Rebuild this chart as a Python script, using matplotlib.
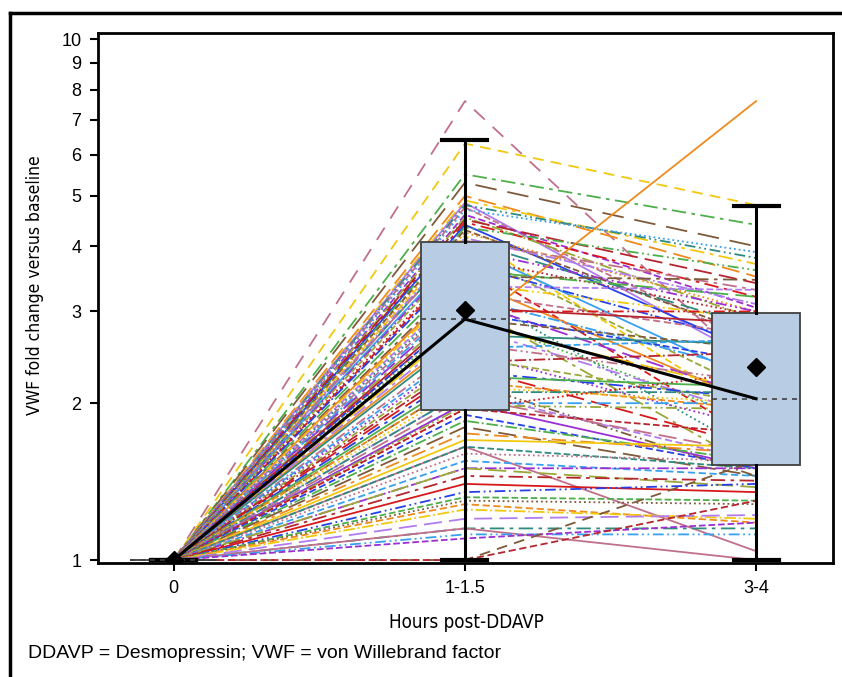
import numpy as np
import matplotlib
matplotlib.use("Agg")
import matplotlib.pyplot as plt
from matplotlib.lines import Line2D
from matplotlib.ticker import FixedLocator, NullLocator
from matplotlib import font_manager

# categories on the x axis
time_labels = ["0", "1-1.5", "3-4"]

# VWF fold change per subject (baseline is always 1)
fold_1h = [7.6, 6.3, 5.5, 5.3, 5.0, 4.9, 4.85, 4.8, 4.75, 4.7, 4.6, 4.55, 4.5, 4.45,
           4.4, 4.35, 4.3, 4.25, 4.2, 4.15, 4.1, 4.1,
           4.0, 3.95, 3.9, 3.8, 3.75, 3.7, 3.6, 3.5, 3.45, 3.4, 3.35, 3.3, 3.25, 3.2,
           3.15, 3.1, 3.05, 3.0, 3.0, 2.95, 2.9, 2.75,
           2.85, 2.8, 2.7, 2.6, 2.55, 2.5, 2.45, 2.4, 2.35, 2.3, 2.25, 2.2, 2.2, 2.15,
           2.1, 2.1, 2.05, 2.0, 2.0, 1.98, 1.95, 1.95,
           1.9, 1.85, 1.8, 1.75, 1.7, 1.65, 1.65, 1.6, 1.55, 1.5, 1.5, 1.45, 1.4, 1.35,
           1.32, 1.3, 1.28, 1.25, 1.2, 1.15, 1.15, 1.12, 1.1, 1.0, 1.0]
fold_3h = [2.3, 4.8, 4.4, 4.0, 3.5, 3.7, 2.4, 3.8, 2.6, 3.9, 3.05, 2.9, 3.4, 3.2,
           2.5, 3.6, 2.7, 3.0, 1.9, 3.1, 2.8, 3.3,
           2.2, 3.0, 2.1, 2.95, 1.7, 2.6, 3.2, 3.45, 2.0, 2.9, 3.3, 1.6, 2.7, 2.3,
           2.05, 1.5, 2.85, 3.0, 2.4, 1.85, 2.55, 7.6,
           2.1, 1.9, 2.6, 2.2, 2.65, 1.8, 2.0, 2.5, 1.65, 2.05, 2.15, 1.45, 1.95, 2.0,
           1.55, 2.1, 1.6, 2.0, 1.5, 1.95, 1.75, 2.3,
           1.5, 1.55, 1.45, 1.6, 1.65, 1.04, 1.5, 1.55, 1.45, 1.5, 1.38, 1.42, 1.35, 1.4,
           1.3, 1.28, 1.18, 1.2, 1.22, 1.15, 1.0, 1.12, 1.18, 1.55, 1.3]

# box plot summary
box_q1 = [1.0, 1.94, 1.52]
box_med = [1.0, 2.9, 2.04]
box_q3 = [1.0, 4.08, 2.98]
whisk_lo = [1.0, 1.0, 1.0]
whisk_hi = [1.0, 6.4, 4.78]
box_mean = [1.0, 3.02, 2.35]

y_ticks = [1, 2, 3, 4, 5, 6, 7, 8, 9, 10]

palette = ['#d7191c', '#2740e8', '#4daf4a', '#7f5a3a', '#ee8a1e', '#f2c80f',
           '#b07cf0', '#2e8b7e', '#c0708a', '#38a0f0', '#9b2fd1', '#9aa83a', '#b5252e']
styles = ['--', '-.', '-', ':', (0, (10, 4)), (0, (6, 2, 1, 2, 1, 2)), (0, (4, 2)),
          (0, (8, 3, 2, 3))]
special = {0: ('#c0708a', (0, (8, 6))), 1: ('#f2c80f', (0, (6, 4))),
           2: ('#4daf4a', (0, (8, 3, 2, 3))), 3: ('#7f5a3a', (0, (12, 6))),
           43: ('#ee8a1e', '-'), 71: ('#c0708a', '-'), 89: ('#7f5a3a', (0, (6, 4)))}


def narrow_font():
    # pick a condensed face if one is installed
    for f in font_manager.fontManager.ttflist:
        if 'Narrow' in f.name or 'Condensed' in f.name:
            return dict(family=f.name)
        if f.name == 'DejaVu Sans' and f.stretch == 'condensed':
            return dict(family='DejaVu Sans', stretch='condensed')
    return dict(family=['Liberation Sans', 'DejaVu Sans'])


def main():
    fig = plt.figure(figsize=(8.42, 6.77), dpi=100)
    ax = fig.add_axes([98 / 842, 1 - 563 / 677, (833 - 98) / 842, (563 - 33) / 677])

    xs = np.arange(len(time_labels))
    for i, (a, b) in enumerate(zip(fold_1h, fold_3h)):
        col, ls = special.get(i, (palette[i % len(palette)], styles[(i * 3) % len(styles)]))
        ax.plot(xs, [1.0, a, b], color=col, ls=ls, lw=1.3, zorder=1)

    stats = []
    for k in range(3):
        stats.append(dict(med=box_med[k], q1=box_q1[k], q3=box_q3[k],
                          whislo=whisk_lo[k], whishi=whisk_hi[k], fliers=[]))
    ax.bxp(stats, positions=xs, widths=0.3, capwidths=0.155, patch_artist=True,
           showfliers=False,
           boxprops=dict(facecolor='#b8cce4', edgecolor='#404040', lw=1.3),
           medianprops=dict(color='#404040', ls=(0, (3, 3)), lw=1.2),
           whiskerprops=dict(color='black', lw=2.2),
           capprops=dict(color='black', lw=3), zorder=3)

    ax.plot(xs, box_med, color='black', lw=2.2, zorder=4)
    ax.plot(xs, box_mean, ls='none', marker='D', ms=9.5, color='black', zorder=5)

    ax.set_yscale('log')
    ax.set_ylim(0.987, 10.27)
    ax.set_xlim(-0.26, 2.264)
    ax.yaxis.set_major_locator(FixedLocator(y_ticks))
    ax.yaxis.set_minor_locator(NullLocator())
    ax.set_yticklabels([str(t) for t in y_ticks])
    ax.set_xticks(xs)
    ax.set_xticklabels(time_labels)
    ax.tick_params(direction='out', length=6, width=1.5, labelsize=13, pad=6)
    for lab in ax.get_xticklabels() + ax.get_yticklabels():
        lab.set_family(['Liberation Sans', 'DejaVu Sans'])
    for sp in ax.spines.values():
        sp.set_linewidth(2)

    nf = narrow_font()
    fig.text(466 / 842, 1 - 622 / 677, "Hours post-DDAVP", ha='center', va='center',
             fontsize=13.5, **nf)
    fig.text(35 / 842, 1 - 285 / 677, "VWF fold change versus baseline", ha='center',
             va='center', rotation=90, fontsize=12.5, **nf)
    fig.text(28 / 842, 1 - 653 / 677, "DDAVP = Desmopressin; VWF = von Willebrand factor",
             ha='left', va='center', fontsize=14, family=['Liberation Sans', 'DejaVu Sans'])

    # outer frame (top and left edges are visible)
    fig.add_artist(Line2D([10 / 842, 1.0], [1 - 13 / 677] * 2, transform=fig.transFigure,
                          color='black', lw=2.5))
    fig.add_artist(Line2D([10 / 842] * 2, [0.0, 1 - 13 / 677], transform=fig.transFigure,
                          color='black', lw=2.5))

    fig.savefig("out.png", dpi=100)


if __name__ == '__main__':
    main()
